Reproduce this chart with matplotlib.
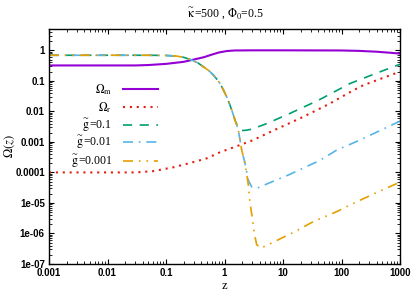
import numpy as np
import matplotlib
matplotlib.use("Agg")
import matplotlib.pyplot as plt
from matplotlib.ticker import LogLocator, FixedLocator, FixedFormatter, NullFormatter

plt.rcParams["mathtext.fontset"] = "stix"

# Density parameters, as (z, Omega) pairs.
z_m = [0.001, 0.03, 0.05, 0.1, 0.2, 0.3, 0.45, 0.6, 0.8, 1.1, 1.5, 3, 10, 100, 200, 400, 700, 1000]
om_m = [0.32, 0.32, 0.33, 0.36, 0.42, 0.50, 0.60, 0.72, 0.85, 0.95, 0.99, 1.0, 1.0, 0.99, 0.96, 0.90, 0.83, 0.78]

z_r = [0.001, 0.03, 0.06, 0.133, 0.25, 0.5, 0.84, 1.84, 3.1, 6.0, 19.5, 42.9, 63, 159, 236, 1000]
om_r = [1e-4, 1e-4, 1.1e-4, 1.47e-4, 2.0e-4, 2.9e-4, 4.6e-4, 7.9e-4, 1.15e-3, 2.1e-3, 5.9e-3,
        1.24e-2, 1.8e-2, 4.9e-2, 7.2e-2, 0.2]

# common early part of the three g curves
z_g = [0.001, 0.05, 0.1, 0.15, 0.2, 0.26, 0.35, 0.44, 0.55, 0.65, 0.75, 0.84, 0.95, 1.09, 1.2, 1.33, 1.51]
om_g = [0.69, 0.69, 0.68, 0.65, 0.59, 0.50, 0.39, 0.285, 0.21, 0.153, 0.11, 0.082, 0.052, 0.030,
        0.019, 0.011, 0.0052]

z_g1 = [1.7, 1.95, 2.3, 2.9, 5.3, 13, 40, 140, 400, 1000]
om_g1 = [0.0030, 0.00235, 0.0024, 0.0026, 0.0040, 0.0085, 0.023, 0.082, 0.18, 0.35]

z_g2 = [1.72, 1.97, 2.24, 2.55, 2.9, 3.55, 5.3, 12.3, 43, 83, 207, 1000]
om_g2 = [0.0025, 5.4e-4, 2.0e-4, 5.6e-5, 3.4e-5, 3.0e-5, 4.2e-5, 8.2e-5, 2.5e-4, 5.4e-4, 1.15e-3, 4.8e-3]

z_g3 = [1.72, 1.97, 2.24, 2.55, 2.73, 3.03, 3.19, 3.55, 4.16, 6.0, 16, 33, 83, 140, 400, 1000]
om_g3 = [0.0025, 5.4e-4, 2.0e-4, 4.0e-5, 9.8e-6, 2.8e-6, 1.15e-6, 4.3e-7, 3.3e-7, 4.6e-7, 1.15e-6,
         2.45e-6, 5.2e-6, 8.6e-6, 2.2e-5, 4.8e-5]

x_ticks = [0.001, 0.01, 0.1, 1, 10, 100, 1000]
x_labels = ["0.001", "0.01", "0.1", "1", "10", "100", "1000"]
y_ticks = [1, 0.1, 0.01, 0.001, 0.0001, 1e-5, 1e-6, 1e-7]
y_labels = ["1", "0.1", "0.01", "0.001", "0.0001", "1e-05", "1e-06", "1e-07"]

fig = plt.figure(figsize=(4.15, 2.91), dpi=100)
ax = fig.add_axes([49 / 415, 27 / 291, 351 / 415, 235 / 291])

serif = "Liberation Serif"
gt = r"$\overset{\sim}{\mathrm{g}}$"

ax.plot(z_m, om_m, color="#9400d3", lw=1.5, label=r"$\Omega_\mathrm{m}$")
ax.plot(z_r, om_r, color="#e51e10", lw=1.5, dashes=(1, 2.3), dash_capstyle="butt",
        label=r"$\Omega_\mathrm{r}$")
ax.plot(z_g + z_g1, om_g + om_g1, color="#009e73", lw=1.2, dashes=(5.5, 4.5),
        label=gt + "=0.1")
ax.plot(z_g + z_g2, om_g + om_g2, color="#56b4e9", lw=1.2, dashes=(6, 3.5, 1, 3.5),
        label=gt + "=0.01")
ax.plot(z_g + z_g3, om_g + om_g3, color="#e69f00", lw=1.2, dashes=(6, 3.5, 1, 3.5, 1, 3.5),
        label=gt + "=0.001")

ax.set_xscale("log")
ax.set_yscale("log")
ax.set_xlim(0.001, 1000)
ax.set_ylim(1e-7, 5)

ax.xaxis.set_major_locator(FixedLocator(x_ticks))
ax.xaxis.set_major_formatter(FixedFormatter(x_labels))
ax.yaxis.set_major_locator(FixedLocator(y_ticks))
ax.yaxis.set_major_formatter(FixedFormatter(y_labels))
ax.xaxis.set_minor_locator(LogLocator(base=10, subs=np.arange(2, 10), numticks=20))
ax.yaxis.set_minor_locator(LogLocator(base=10, subs=np.arange(2, 10), numticks=20))
ax.xaxis.set_minor_formatter(NullFormatter())
ax.yaxis.set_minor_formatter(NullFormatter())

ax.tick_params(which="both", direction="in", top=True, right=True, labelsize=7, pad=3)
ax.tick_params(which="major", length=3.5, width=0.8)
ax.tick_params(which="minor", length=2, width=0.6)
for lab in ax.get_xticklabels() + ax.get_yticklabels():
    lab.set_fontfamily("Liberation Sans")
    lab.set_fontweight("bold")
for s in ax.spines.values():
    s.set_linewidth(1.0)

ax.set_title(r"$\overset{\sim}{\mathrm{\kappa}}$=500 , $\Phi_0$=0.5", fontfamily=serif,
             fontsize=8.5, pad=8)
ax.set_xlabel("z", fontfamily=serif, fontsize=9, labelpad=1)
ax.set_ylabel(r"$\Omega(z)$", fontfamily=serif, fontsize=9)
ax.yaxis.set_label_coords(-0.09, 0.5)

# gnuplot-style key: one legend per row so the row spacing stays even
handles, labels = ax.get_legend_handles_labels()
row_y = [0.743, 0.666, 0.594, 0.520, 0.440]
for i, (h, l, y) in enumerate(zip(handles, labels, row_y)):
    leg = ax.legend([h], [l], loc="center right", bbox_to_anchor=(0.3105, y), markerfirst=False,
                    frameon=False, prop={"family": serif, "size": 8.5}, handlelength=3.0,
                    handletextpad=0.9, borderpad=0, borderaxespad=0)
    if i < len(handles) - 1:
        ax.add_artist(leg)

fig.savefig("out.png", dpi=100)
